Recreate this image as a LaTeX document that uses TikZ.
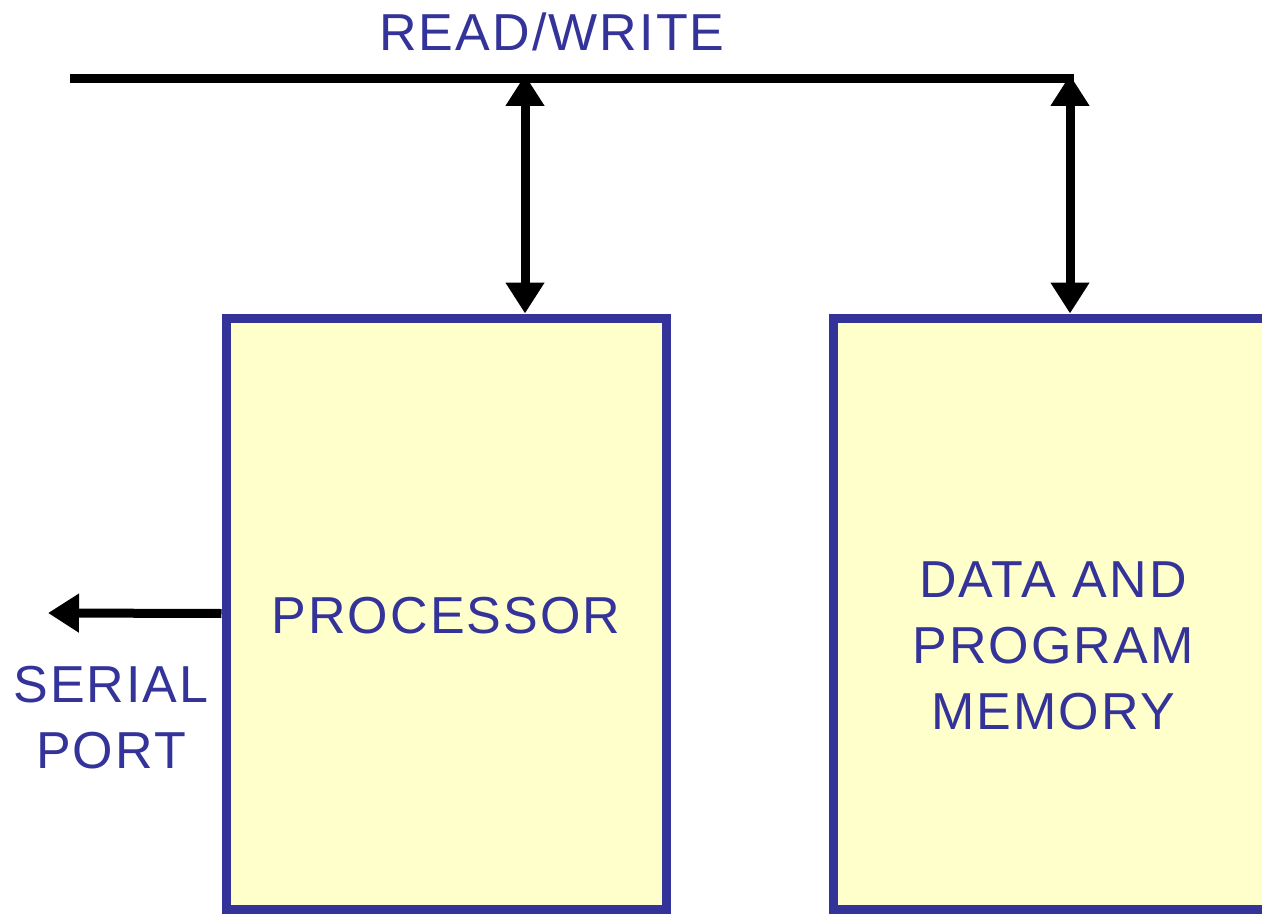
\documentclass[tikz,border=0pt]{standalone}
\usepackage{fontspec}
\setmainfont{Liberation Sans}[LetterSpace=4]
\usetikzlibrary{arrows.meta}
\definecolor{tblue}{HTML}{333399}
\definecolor{tfill}{HTML}{FFFFCC}
\tikzset{
  blk/.style={draw=tblue, fill=tfill, line width=9pt, minimum width=440pt, minimum height=591pt, inner sep=0pt, text=tblue, align=center, font=\fontsize{52}{66}\selectfont},
  lbl/.style={text=tblue, align=center, inner sep=0pt, font=\fontsize{52}{66}\selectfont},
  wire/.style={line width=9pt, black},
  tipA/.style={-{Triangle[width=37pt,length=31pt]}},
  tipB/.style={{Triangle[width=37pt,length=31pt]}-{Triangle[width=37pt,length=31pt]}}
}
\begin{document}
\begin{tikzpicture}[x=1pt,y=-1pt]
\clip (0,0) rectangle (1262,915);
\fill[white] (0,0) rectangle (1262,915);
\node[blk] (proc) at (446,613.5) {};
\node[lbl] (proctxt) at (446,616) {PROCESSOR};
\node[blk] (mem) at (1053,613.5) {};
\node[lbl] (memtxt) at (1053,646) {DATA AND\\PROGRAM\\MEMORY};
\coordinate (busL) at (70,79);
\coordinate (busR) at (1074,79);
\coordinate (tapP) at (525,79);
\coordinate (tapM) at (1070,79);
\coordinate (serial) at (48,613);
\draw[wire] (busL) -- (busR);
\node[lbl] (rw) at (552,32) {READ/WRITE};
\draw[wire,tipB,shorten <=-4pt] (tapP) -- (proc.north -| tapP);
\draw[wire,tipB,shorten <=-4pt] (tapM) -- (mem.north -| tapM);
\draw[wire,tipA] (proc.west) -- (serial);
\node[lbl] (sp) at (111,718) {SERIAL\\PORT};
\end{tikzpicture}
\end{document}
